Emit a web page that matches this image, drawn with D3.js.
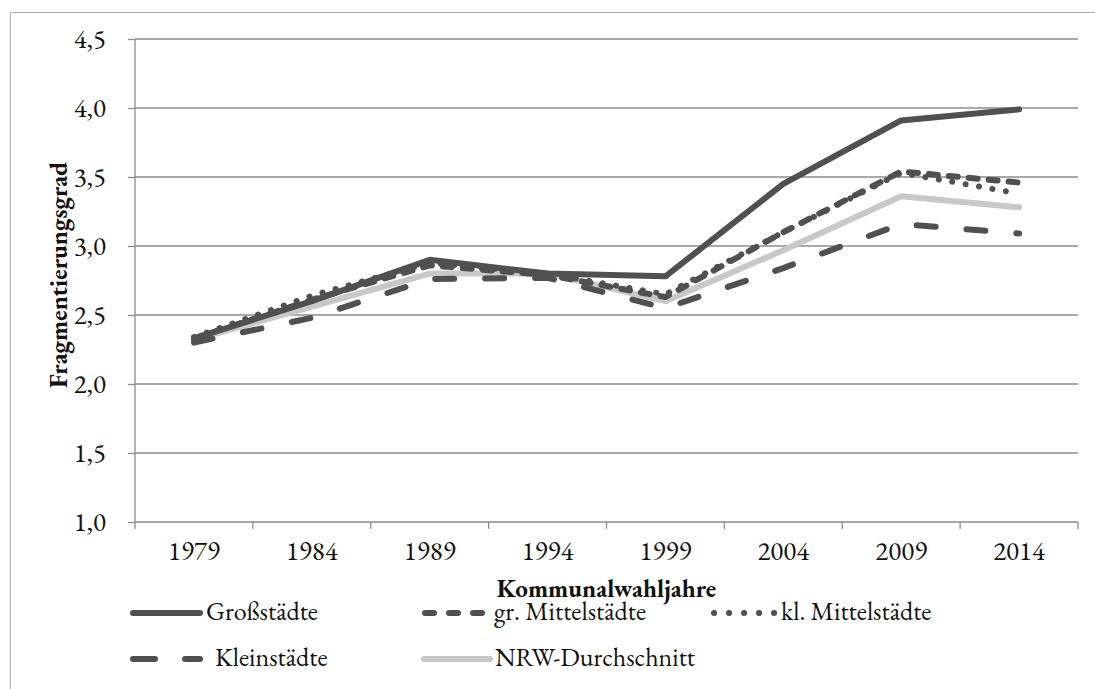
<!DOCTYPE html>
<html><head><meta charset="utf-8">
<script src="https://cdn.jsdelivr.net/npm/d3@7"></script>
<style>body{margin:0;background:#fff;}svg{display:block;} svg text{font-family:"EB Garamond","Liberation Serif",serif !important;}</style>
</head><body>
<svg id="c" width="1095" height="689"></svg>
<script>
const years = ["1979","1984","1989","1994","1999","2004","2009","2014"];
const grossstaedte = [2.33, 2.60, 2.90, 2.80, 2.78, 3.45, 3.91, 3.99];
const grMittelstaedte = [2.33, 2.61, 2.86, 2.79, 2.63, 3.10, 3.54, 3.46];
const klMittelstaedte = [2.34, 2.64, 2.88, 2.80, 2.65, 3.10, 3.53, 3.38];
const kleinstaedte = [2.30, 2.48, 2.76, 2.77, 2.55, 2.84, 3.16, 3.09];
const nrwDurchschnitt = [2.32, 2.56, 2.80, 2.80, 2.60, 2.97, 3.36, 3.28];
const yTicks = [1.0, 1.5, 2.0, 2.5, 3.0, 3.5, 4.0, 4.5];

const series = [
  {name:"Großstädte", values:grossstaedte, color:"#505050", dash:null, ldash:null, l1:133, l2:200, tx:206, ly:613},
  {name:"gr. Mittelstädte", values:grMittelstaedte, color:"#505050", dash:"9 11", ldash:"9 15", l1:425, l2:482, tx:494, ly:613},
  {name:"kl. Mittelstädte", values:klMittelstaedte, color:"#505050", dash:"0.1 13.5", ldash:"0.1 14.9", l1:714, l2:775, tx:781, ly:613},
  {name:"Kleinstädte", values:kleinstaedte, color:"#505050", dash:"19 31", ldash:"22 30", l1:133, l2:200, tx:215, ly:659},
  {name:"NRW-Durchschnitt", values:nrwDurchschnitt, color:"#c8c8c8", dash:null, ldash:null, l1:424, l2:490, tx:495, ly:659}
];

const svg = d3.select("#c");
const L=135, R=1078, T=39, B=522;
const x = d3.scaleBand().domain(years).range([L,R]);
const y = d3.scaleLinear().domain([1,4.5]).range([B,T]);

const defs = svg.append("defs");
const f = defs.append("filter").attr("id","sh").attr("x","-5%").attr("y","-5%").attr("width","110%").attr("height","110%");
f.append("feDropShadow").attr("dx",2).attr("dy",2).attr("stdDeviation",2).attr("flood-color","#000").attr("flood-opacity",0.25);
svg.append("rect").attr("x",10.5).attr("y",12.5).attr("width",1200).attr("height",800)
  .attr("fill","#fff").attr("stroke","#b4b4b4").attr("stroke-width",1).attr("filter","url(#sh)");

const gridC = "#8c8c8c";
svg.append("g").selectAll("line").data(yTicks.slice(1)).join("line")
  .attr("x1",L).attr("x2",R).attr("y1",d=>y(d)).attr("y2",d=>y(d))
  .attr("stroke",gridC).attr("stroke-width",1.3);

// y axis
const ya = svg.append("g").attr("transform",`translate(${L},0)`)
  .call(d3.axisLeft(y).tickValues(yTicks).tickSize(7).tickPadding(22).tickFormat(d=>d3.format(".1f")(d).replace(".",",")));
ya.select(".domain").attr("stroke",gridC).attr("stroke-width",1.3).attr("d",`M0,${T}V${B}`);
ya.selectAll(".tick line").attr("stroke",gridC).attr("stroke-width",1.3);
ya.selectAll("text").attr("font-size",27).attr("fill","#111").attr("dy","0.3em");

// x axis
const xa = svg.append("g").attr("transform",`translate(0,${B})`)
  .call(d3.axisBottom(x).tickSize(0));
xa.select(".domain").attr("stroke",gridC).attr("stroke-width",1.3).attr("d",`M${L},0H${R}`);
xa.selectAll("text").attr("font-size",27).attr("fill","#111").attr("dy",null).attr("y",38);
const bounds = years.map(d=>x(d)).concat([R]);
svg.append("g").selectAll("line").data(bounds).join("line")
  .attr("x1",d=>d).attr("x2",d=>d).attr("y1",B).attr("y2",B+7)
  .attr("stroke",gridC).attr("stroke-width",1.3);

// lines
const line = d3.line().x((d,i)=>x(years[i])+x.bandwidth()/2).y(d=>y(d));
[4,3,2,1,0].forEach(k=>{
  const s = series[k];
  svg.append("path").attr("d",line(s.values)).attr("fill","none")
    .attr("stroke",s.color).attr("stroke-width",6)
    .attr("stroke-linecap","round").attr("stroke-linejoin","round")
    .attr("stroke-dasharray",s.dash);
});

// axis titles
svg.append("text").attr("x",(L+R)/2).attr("y",597).attr("text-anchor","middle")
  .attr("font-size",25).attr("font-weight","bold").attr("fill","#111").text("Kommunalwahljahre");
svg.append("text").attr("transform","translate(67,275) rotate(-90)").attr("text-anchor","middle")
  .attr("font-size",25).attr("font-weight","bold").attr("fill","#111").text("Fragmentierungsgrad");

// legend
series.forEach(s=>{
  const g = svg.append("g");
  g.append("line").attr("x1",s.l1).attr("x2",s.l2).attr("y1",s.ly).attr("y2",s.ly)
    .attr("stroke",s.color).attr("stroke-width",6).attr("stroke-linecap","round")
    .attr("stroke-dasharray",s.ldash);
  g.append("text").attr("x",s.tx).attr("y",s.ly+7).attr("font-size",26).attr("fill","#111").text(s.name);
});
</script>
</body></html>
